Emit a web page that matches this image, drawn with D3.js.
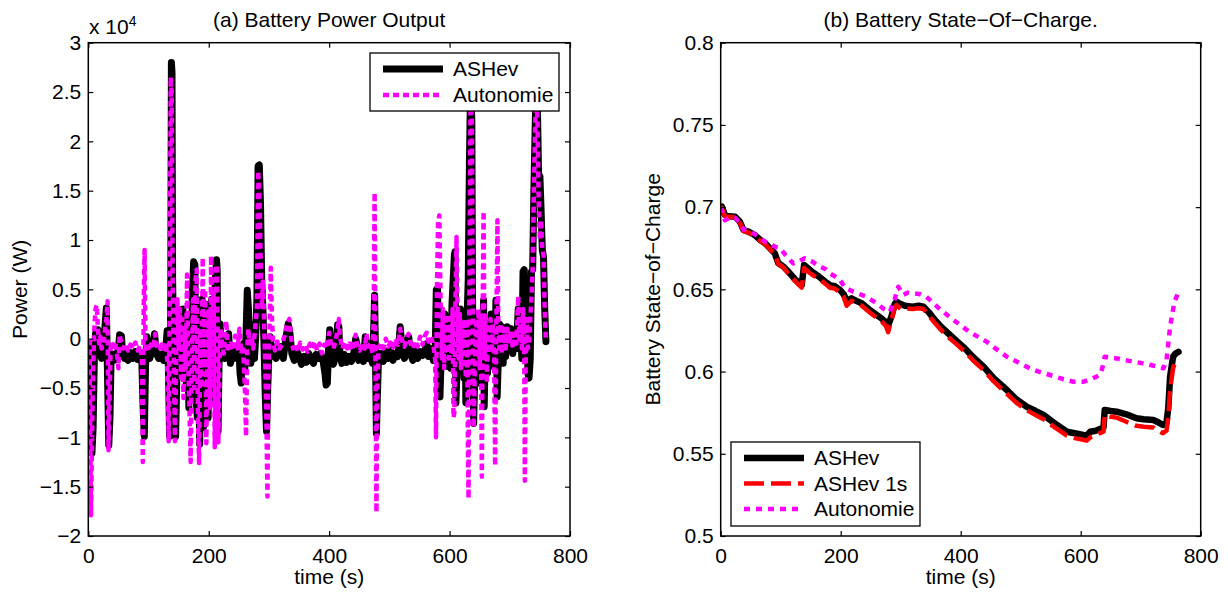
<!DOCTYPE html>
<html>
<head>
<meta charset="utf-8">
<script src="https://cdn.jsdelivr.net/npm/d3@7"></script>
<style>
  body { margin: 0; background: #fff; }
  svg { display: block; }
  text { font-family: "Liberation Sans", Arial, Helvetica, sans-serif; fill: #000; }
</style>
</head>
<body>
<svg width="1228" height="593"></svg>
<script>
// ---- data ----
const timeTicks = [0, 200, 400, 600, 800];
const powerTicks = [-20000, -15000, -10000, -5000, 0, 5000, 10000, 15000, 20000, 25000, 30000];
const socTicks = [0.5, 0.55, 0.6, 0.65, 0.7, 0.75, 0.8];

// [time (s), power (W)]
const ashevPower = [[0,-800],[2,-1500],[4,-6000],[6,-11600],[8,-9000],[10,-2000],[12,500],[14,-500],[16,900],[18,-300],[20,-1500],[22,-2000],[24,-1200],[26,-500],[28,1500],[30,3100],[32,-4000],[34,-10800],[36,-8000],[38,-1500],[40,-1800],[43,-2200],[46,-1500],[49,-1800],[52,400],[55,300],[57,-1500],[60,-2000],[63,-1500],[66,-2200],[70,-1400],[74,-2000],[78,-1300],[82,-2100],[86,-1500],[89,-2500],[91,-7000],[93,-9900],[95,-3000],[97,200],[99,-1500],[102,-2000],[106,-1200],[110,500],[113,-1500],[117,-2000],[121,-1600],[125,-2200],[128,-1500],[131,800],[133,-3000],[135,-9900],[137,5000],[138,28000],[139,27000],[140,6000],[142,-2000],[144,-7000],[145,-9900],[147,-4000],[149,-1000],[151,-2500],[153,1000],[155,-3000],[157,3000],[159,-4000],[161,500],[163,-5000],[165,2000],[167,-7000],[169,1500],[171,-3000],[173,5000],[175,7800],[177,7500],[179,-6000],[181,-8000],[183,3000],[185,-10700],[187,-2000],[189,4000],[191,-9000],[193,2000],[195,-7000],[197,3500],[199,-8000],[201,1000],[203,-5000],[205,4000],[207,-6000],[209,2000],[211,6000],[213,8000],[214,7000],[215.5,-9400],[217,-3000],[219,1500],[221,-1500],[224,-500],[227,-2000],[230,-1000],[233,500],[236,-2500],[240,-1000],[243,-2000],[247,-1500],[250,-800],[252,-3500],[254,-4500],[256,-2000],[258,-500],[260,-3000],[262,500],[264,4900],[266,3000],[268,-1500],[270,-2500],[272,-800],[274,1500],[276,-2000],[278,200],[280,4000],[282,17500],[284,17600],[286,13700],[288,6000],[290,3000],[292,-1000],[294,-6000],[296,-9400],[298,-5000],[300,-1500],[302,200],[305,-1800],[308,-800],[312,-2000],[316,-1200],[320,-800],[324,-2000],[328,0],[332,1500],[335,500],[338,-1500],[342,-2200],[346,-1200],[350,-1800],[354,-2600],[358,-1800],[362,-2400],[366,-1500],[370,-2200],[374,-2500],[378,-1600],[382,-2000],[386,-1500],[390,-2300],[393,-3500],[395,-4700],[397,-4500],[399,-1000],[401,900],[403,-1500],[407,-2600],[411,-1800],[414,1400],[416,1300],[418,-1500],[421,-2500],[425,-1600],[429,-2400],[433,-1800],[437,-2300],[441,-1400],[444,0],[446,-500],[449,-2200],[453,-1500],[457,-2300],[460,200],[462,-500],[465,-2000],[469,-1800],[472,-2500],[474,1000],[475.5,4400],[477,-2000],[478.5,-9600],[480,-6000],[482,-2000],[486,-1500],[490,-2300],[494,-1300],[498,-2000],[502,-1200],[506,-2200],[510,-1500],[514,-1800],[518,1200],[521,-800],[525,-2000],[529,-1200],[532,200],[535,-1500],[539,-2200],[543,-1200],[547,-2000],[551,-1300],[555,-1700],[559,-1200],[562,-500],[565,-1800],[569,-1000],[573,-2200],[576,-1500],[578,5000],[580,5100],[582,-3000],[584,-5900],[586,-2000],[588,1000],[590,-1500],[592,2500],[594,-2800],[596,1500],[598,-2000],[600,500],[602,-3000],[604,3500],[606,6000],[608,8500],[609,8800],[610.5,-6500],[612,-4000],[614,2000],[616,-1500],[618,3000],[620,-2500],[622,1000],[624,-4000],[626,1500],[627,-6500],[629,2000],[631,6000],[633,18000],[635,26000],[637,22000],[638,5000],[640,-8600],[642,-3000],[644,1000],[646,-2500],[648,2500],[650,-4500],[652,1500],[654,-3000],[656.5,3900],[657.5,-6900],[659,-2000],[661,2000],[663,-3500],[665,1000],[667,-2000],[669,2500],[671,-1500],[673,1500],[675,-3000],[677,3900],[678,2000],[679,-5900],[681,-2000],[683,1500],[685,-1000],[687,1200],[689,-2500],[691,800],[693,-1800],[696,1200],[699,-1000],[702,1000],[705,-1500],[708,600],[711,-1000],[714,3000],[716,-500],[718,1500],[720,-2000],[722,6800],[724,7000],[726,3000],[728,5000],[730,-3500],[732,-4000],[734,-2000],[736,6800],[738,7000],[740,15000],[742,21000],[744,26000],[746,23000],[748,16000],[750,16500],[752,13000],[754,9000],[756,8300],[758,3000],[760,-300]];

const autonomiePower = [[0,-500],[2,-300],[3,-8000],[4.5,-17900],[6,-11000],[8,-3000],[10,1000],[12,3000],[14,3400],[16,1000],[18,-500],[20,200],[22,-1000],[24,-600],[26,0],[28,1000],[30,2000],[32,3800],[33.5,-11300],[35,-7000],[37,-1000],[39,-300],[42,-800],[45,-400],[48,-1800],[50,-3000],[52,400],[55,-500],[58,-1000],[62,-500],[66,-1200],[70,-600],[74,-1000],[78,-400],[82,-1200],[86,-700],[89,-2000],[90.5,-12500],[92,3000],[93.5,9000],[95,-1000],[97,-500],[100,-1200],[104,-600],[108,-1000],[111,500],[114,-800],[118,-1200],[122,-600],[126,-1000],[129,-400],[131,-2000],[133.5,-10400],[135.5,6000],[137,26500],[138.5,25000],[140,6500],[142,-3000],[144,-10400],[146,-2000],[148,4000],[150,-1000],[152,3000],[154,-4000],[156,2000],[158,-6000],[160,1000],[162,-3000],[164,6500],[166,-2000],[168,-7000],[170,-12500],[172,-2000],[174,4000],[176,-5000],[178,6000],[180,7000],[182,-8000],[184,-12600],[186,1000],[188,-5000],[190,8200],[192,-3000],[194,5000],[196,-10600],[198,-2000],[200,3000],[202,-7000],[204,8400],[206,-5000],[208,5000],[210,-11000],[212,7000],[214,7500],[216,-10500],[218,-2000],[220,1000],[222,-500],[225,-1500],[229,1800],[232,-1000],[236,-500],[240,-1200],[244,300],[248,-1000],[251,1000],[254,-1500],[257,-700],[260,-5000],[262,-9900],[264,-1000],[266,1000],[268,-500],[271,200],[274,-1000],[277,1000],[280,3000],[282,17000],[284,15000],[286,9000],[288,3000],[290,6000],[292,1500],[294,-3000],[296,-9000],[297.5,-16000],[299,-4000],[301,1000],[303,7200],[305,2000],[307,-500],[310,-1200],[314,-300],[318,-1000],[322,-500],[326,300],[330,1500],[334,2000],[337,0],[340,-1000],[344,-500],[348,-1300],[352,-400],[356,-1100],[360,-600],[364,-1300],[368,-500],[372,-1000],[376,-300],[380,-1200],[384,-500],[388,-1500],[392,-600],[396,-1000],[400,600],[403,-500],[407,-1000],[411,-200],[414,1000],[416,2000],[418,200],[422,-1000],[426,-300],[430,-1000],[434,-500],[438,-1200],[441,-400],[444,400],[447,-800],[451,-1200],[455,-400],[459,-1000],[462,500],[465,-800],[469,-500],[472,-1500],[474,2000],[475.5,14800],[477,-3000],[478.5,-17600],[480,-5000],[482,-1000],[486,-500],[490,-1000],[494,0],[498,-800],[502,-400],[506,-900],[510,0],[514,-600],[518,1000],[521,-200],[525,-800],[529,0],[532,500],[535,-500],[539,-1000],[543,-200],[547,-800],[551,200],[555,-600],[559,300],[562,600],[565,-300],[569,200],[573,-600],[576,-2000],[577.5,-10000],[579,5000],[581,12000],[583,12500],[585,4000],[587,-2000],[589,3000],[591,-3000],[593,2000],[595,-1000],[597,2500],[599,-2000],[601,1500],[603,-1500],[605,3000],[606.5,-8000],[608,-7500],[610,5000],[611.5,10300],[613,4000],[615,-2000],[617,2500],[619,-3000],[621,1500],[623,-1000],[625,2000],[627,-4000],[629,1500],[630.5,-11000],[631.5,-16200],[633,5000],[635,25500],[637,22000],[638.5,3000],[640,-9000],[642,-3000],[644,2000],[646,-1500],[648,3000],[650,-3000],[652,2000],[653.6,-14000],[655,3000],[656.5,12900],[658,-2000],[660,2500],[662,-4500],[664,1000],[666,-1500],[668,2000],[670,-1000],[672,1500],[674,-2000],[675.7,-12900],[677,-3000],[679.5,12000],[681,1000],[683,-1000],[685,1500],[687,-1500],[690,1000],[693,-1000],[696,1000],[699,-500],[702,800],[705,-1000],[708,500],[711,-500],[714,4300],[716,0],[718,1500],[720,-1000],[722,3000],[724,-1500],[725,-14400],[726.5,-2000],[728,2000],[730,-1000],[732,-500],[734,2000],[736,4000],[738,7000],[740,15000],[742,21000],[744,25500],[746,22000],[748,14000],[750,10000],[752,12000],[754,9000],[756,8500],[758,3000],[760,-300]];

// [time (s), state of charge]
const ashevSoc = [[0,0.700],[2,0.7003],[7,0.6952],[15,0.6945],[24,0.6942],[32,0.6911],[38,0.6861],[47,0.685],[57,0.683],[66,0.680],[74,0.678],[82,0.675],[90,0.672],[96,0.666],[104,0.664],[113,0.6607],[124,0.656],[135,0.6526],[139,0.6648],[145,0.663],[152,0.6607],[163,0.658],[174,0.6547],[182,0.6526],[190,0.652],[199,0.6496],[205,0.647],[210,0.643],[218,0.6445],[226,0.643],[235,0.6415],[250,0.637],[268,0.6324],[275,0.630],[279,0.628],[285,0.634],[290,0.641],[293,0.6425],[300,0.641],[307,0.640],[320,0.6395],[330,0.640],[338,0.6395],[347,0.636],[357,0.6314],[368,0.627],[379,0.6233],[392,0.619],[407,0.6141],[420,0.609],[438,0.603],[455,0.596],[477,0.5888],[493,0.583],[510,0.5786],[525,0.576],[538,0.5736],[555,0.569],[577,0.5634],[590,0.5625],[604,0.5614],[610,0.561],[616,0.5634],[625,0.564],[635,0.5655],[638,0.566],[640,0.5766],[650,0.576],[660,0.5756],[676,0.574],[693,0.5716],[705,0.571],[721,0.5705],[730,0.569],[737,0.5675],[743,0.569],[746,0.578],[749,0.5969],[754,0.609],[758,0.611],[763,0.612]];

const ashev1sSoc = [[0,0.700],[2,0.6995],[7,0.6945],[15,0.694],[24,0.694],[32,0.6905],[38,0.6855],[47,0.6845],[57,0.6825],[66,0.6795],[74,0.6775],[82,0.6745],[90,0.6715],[96,0.6655],[104,0.6635],[113,0.6595],[124,0.655],[135,0.651],[139,0.663],[145,0.661],[152,0.659],[163,0.6565],[174,0.6535],[182,0.651],[190,0.6505],[199,0.648],[205,0.6455],[210,0.640],[218,0.643],[226,0.6415],[235,0.640],[250,0.6355],[268,0.6305],[275,0.628],[279,0.624],[285,0.632],[290,0.639],[293,0.6405],[300,0.638],[307,0.6385],[320,0.638],[330,0.6385],[338,0.638],[347,0.634],[357,0.6295],[368,0.625],[379,0.621],[392,0.617],[407,0.612],[420,0.607],[438,0.601],[455,0.594],[477,0.5865],[493,0.581],[510,0.5765],[525,0.5735],[538,0.571],[555,0.5665],[577,0.561],[590,0.5595],[604,0.5585],[610,0.558],[616,0.560],[625,0.5615],[635,0.563],[638,0.5635],[640,0.5735],[650,0.5725],[660,0.572],[676,0.5695],[693,0.567],[705,0.5665],[721,0.566],[730,0.564],[737,0.5625],[743,0.564],[746,0.572],[749,0.589],[754,0.602],[758,0.6065]];

const autonomieSoc = [[0,0.700],[3,0.697],[7,0.692],[15,0.6935],[24,0.6935],[32,0.6905],[38,0.6865],[47,0.6855],[57,0.6835],[66,0.681],[74,0.679],[82,0.678],[90,0.676],[99,0.675],[110,0.670],[121,0.6658],[130,0.667],[140,0.6689],[152,0.667],[165,0.6638],[174,0.6625],[182,0.6597],[190,0.658],[199,0.6557],[207,0.651],[215,0.6496],[221,0.6486],[232,0.647],[243,0.6455],[260,0.6415],[272,0.638],[282,0.6364],[290,0.644],[296,0.6516],[304,0.6466],[312,0.648],[321,0.6476],[333,0.647],[343,0.6455],[365,0.638],[388,0.6314],[415,0.624],[443,0.6182],[460,0.6135],[477,0.609],[499,0.605],[515,0.602],[530,0.600],[549,0.5979],[570,0.5955],[588,0.5938],[604,0.5938],[618,0.5955],[632,0.5979],[636,0.602],[640,0.609],[650,0.6085],[660,0.608],[680,0.6065],[704,0.605],[722,0.6035],[738,0.602],[743,0.607],[749,0.6273],[756,0.642],[763,0.6486]];

const FONT = 21;
const svg = d3.select("svg");

const minusFmt = s => s.replace("-", "\u2212");

function drawPanel(p) {
    const x = d3.scaleLinear().domain([0, 800]).range([p.left, p.right]);
    const y = d3.scaleLinear().domain(p.yDomain).range([p.bottom, p.top]);

    const g = svg.append("g");

    // clip for the curves
    g.append("clipPath").attr("id", p.id + "-clip")
        .append("rect")
        .attr("x", p.left).attr("y", p.top)
        .attr("width", p.right - p.left).attr("height", p.bottom - p.top);

    const plot = g.append("g").attr("clip-path", `url(#${p.id}-clip)`);
    const line = d3.line().x(d => x(d[0])).y(d => y(d[1]));

    p.series.forEach(s => {
        plot.append("path")
            .datum(s.data)
            .attr("fill", "none")
            .attr("stroke", s.color)
            .attr("stroke-width", s.width)
            .attr("stroke-linejoin", "round")
            .attr("stroke-linecap", s.dash ? "butt" : "round")
            .attr("stroke-dasharray", s.dash || null)
            .attr("d", line);
    });

    // axes, ticks pointing inward on all four sides
    const styleAxis = sel => {
        sel.select(".domain").remove();
        sel.selectAll("line").attr("stroke", "#000").attr("stroke-width", 1.2);
        sel.selectAll("text")
            .attr("font-size", FONT)
            .attr("font-family", "'Liberation Sans', Arial, Helvetica, sans-serif")
            .attr("fill", "#000");
    };

    g.append("g")
        .attr("transform", `translate(0,${p.bottom})`)
        .call(d3.axisBottom(x).tickValues(timeTicks).tickSize(-5).tickPadding(10))
        .call(styleAxis)
        .selectAll("text").attr("dy", "0.8em");

    g.append("g")
        .attr("transform", `translate(0,${p.top})`)
        .call(d3.axisTop(x).tickValues(timeTicks).tickSize(-5).tickFormat(""))
        .call(styleAxis);

    g.append("g")
        .attr("transform", `translate(${p.left},0)`)
        .call(d3.axisLeft(y).tickValues(p.yTicks).tickSize(-5).tickPadding(7).tickFormat(p.yFormat))
        .call(styleAxis);

    g.append("g")
        .attr("transform", `translate(${p.right},0)`)
        .call(d3.axisRight(y).tickValues(p.yTicks).tickSize(-5).tickFormat(""))
        .call(styleAxis);

    g.append("rect")
        .attr("x", p.left).attr("y", p.top)
        .attr("width", p.right - p.left).attr("height", p.bottom - p.top)
        .attr("fill", "none").attr("stroke", "#000").attr("stroke-width", 1.5);

    // titles and labels
    const cx = (p.left + p.right) / 2;
    g.append("text").attr("x", cx).attr("y", 27)
        .attr("text-anchor", "middle").attr("font-size", FONT).text(p.title);
    g.append("text").attr("x", cx).attr("y", 584)
        .attr("text-anchor", "middle").attr("font-size", FONT).text("time (s)");
    g.append("text")
        .attr("transform", `translate(${p.yLabelX},${(p.top + p.bottom) / 2}) rotate(-90)`)
        .attr("text-anchor", "middle").attr("font-size", FONT).text(p.yLabel);

    // legend
    const lg = g.append("g");
    lg.append("rect")
        .attr("x", p.legend.x).attr("y", p.legend.y)
        .attr("width", p.legend.w).attr("height", p.legend.h)
        .attr("fill", "#fff").attr("stroke", "#000").attr("stroke-width", 1.3);
    p.series.forEach((s, i) => {
        const ly = p.legend.y + p.legend.first + i * p.legend.step;
        lg.append("line")
            .attr("x1", p.legend.x + p.legend.pad).attr("x2", p.legend.x + p.legend.pad + 60)
            .attr("y1", ly).attr("y2", ly)
            .attr("stroke", s.color).attr("stroke-width", s.width)
            .attr("stroke-dasharray", s.dash || null);
        lg.append("text")
            .attr("x", p.legend.x + p.legend.pad + 70).attr("y", ly)
            .attr("dy", "0.35em").attr("font-size", FONT).text(s.name);
    });
    return g;
}

drawPanel({
    id: "pa",
    left: 88.3, right: 570, top: 42.7, bottom: 536,
    yDomain: [-20000, 30000],
    yTicks: powerTicks,
    yFormat: d => minusFmt(String(d / 1e4)),
    title: "(a) Battery Power Output",
    yLabel: "Power (W)",
    yLabelX: 27,
    series: [
        { name: "ASHev", data: ashevPower, color: "#000", width: 7 },
        { name: "Autonomie", data: autonomiePower, color: "#ff00ff", width: 4.5, dash: "6,4" }
    ],
    legend: { x: 370, y: 53, w: 189, h: 58, pad: 13, first: 16, step: 26 }
});

drawPanel({
    id: "pb",
    left: 720.7, right: 1200.7, top: 42.7, bottom: 536,
    yDomain: [0.5, 0.8],
    yTicks: socTicks,
    yFormat: d => String(+d.toFixed(2)),
    title: "(b) Battery State\u2212Of\u2212Charge.",
    yLabel: "Battery State\u2212of\u2212Charge",
    yLabelX: 660,
    series: [
        { name: "ASHev", data: ashevSoc, color: "#000", width: 6.5 },
        { name: "ASHev 1s", data: ashev1sSoc, color: "#ff0000", width: 4.5, dash: "20,7" },
        { name: "Autonomie", data: autonomieSoc, color: "#ff00ff", width: 4.5, dash: "6,6" }
    ],
    legend: { x: 731, y: 442, w: 189, h: 84, pad: 13, first: 16, step: 25.5 }
});

// exponent label of the power axis
const expo = svg.append("text").attr("x", 89).attr("y", 34).attr("font-size", FONT);
expo.append("tspan").text("x 10");
expo.append("tspan").attr("dy", -8).attr("font-size", 14).text("4");
</script>
</body>
</html>
